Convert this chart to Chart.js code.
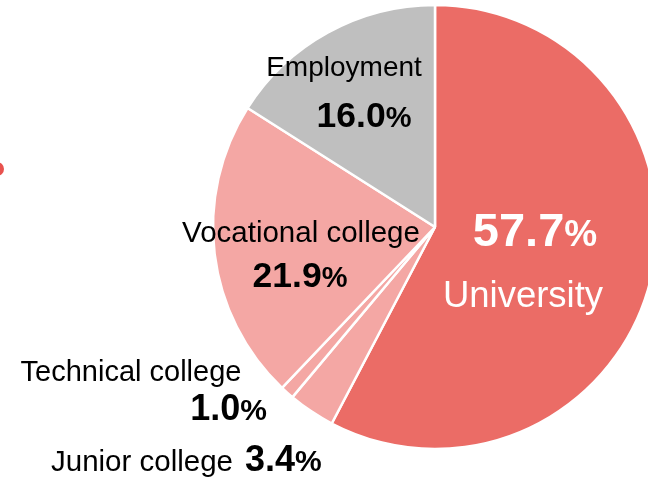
<!DOCTYPE html>
<html lang="en">
<head>
    <meta charset="UTF-8">
    <title>Career paths</title>
    <style>
        html, body {
            margin: 0;
            padding: 0;
            background: #fff;
            overflow: hidden;
        }
        .wrap {
            position: relative;
            width: 648px;
            height: 479px;
            overflow: hidden;
        }
        #pathChart {
            position: absolute;
            left: 0;
            top: 0;
        }
        .dot {
            position: absolute;
            left: -10px;
            top: 162px;
            width: 14px;
            height: 14px;
            border-radius: 50%;
            background: #e8524e;
        }
    </style>
</head>
<body>
<div class="wrap">
    <canvas id="pathChart" width="660" height="479"></canvas>
    <div class="dot"></div>
</div>
<script src="https://cdn.jsdelivr.net/npm/chart.js"></script>
<script>
    // data (clockwise from 12 o'clock)
    const categories = ['University', 'Junior college', 'Technical college', 'Vocational college', 'Employment'];
    const shares = [57.7, 3.4, 1.0, 21.9, 16.0];
    const sliceColors = ['#eb6c66', '#f4a7a4', '#f4a7a4', '#f4a7a4', '#bfbfbf'];

    const FONT = '"Liberation Sans", Arial, sans-serif';

    // draws "57.7" + smaller "%" ; align: 'center' | 'left' | 'right'
    function drawPct(ctx, value, x, y, numSize, pctSize, color, align) {
        const num = value.toFixed(1);
        ctx.font = 'bold ' + numSize + 'px ' + FONT;
        const w1 = ctx.measureText(num).width;
        ctx.font = 'bold ' + pctSize + 'px ' + FONT;
        const w2 = ctx.measureText('%').width;
        const total = w1 + w2;
        let left = x;
        if (align === 'center') left = x - total / 2;
        if (align === 'right') left = x - total;
        ctx.fillStyle = color;
        ctx.textAlign = 'left';
        ctx.textBaseline = 'alphabetic';
        ctx.font = 'bold ' + numSize + 'px ' + FONT;
        ctx.fillText(num, left, y);
        ctx.font = 'bold ' + pctSize + 'px ' + FONT;
        ctx.fillText('%', left + w1, y);
        return total;
    }

    function drawText(ctx, txt, x, y, size, color, align) {
        ctx.font = size + 'px ' + FONT;
        ctx.fillStyle = color;
        ctx.textAlign = align;
        ctx.textBaseline = 'alphabetic';
        ctx.fillText(txt, x, y);
    }

    const labelPlugin = {
        id: 'sliceLabels',
        afterDatasetsDraw(chart) {
            const ctx = chart.ctx;
            ctx.save();
            // University
            drawPct(ctx, shares[0], 535, 246, 47, 37, '#ffffff', 'center');
            drawText(ctx, categories[0], 523, 307, 36.5, '#ffffff', 'center');
            // Vocational college
            drawText(ctx, categories[3], 301, 242, 29.5, '#000', 'center');
            drawPct(ctx, shares[3], 300, 287, 35.5, 29, '#000', 'center');
            // Employment
            drawText(ctx, categories[4], 344, 76, 28, '#000', 'center');
            drawPct(ctx, shares[4], 364, 127, 35.5, 29, '#000', 'center');
            // Technical college
            drawText(ctx, categories[2], 131, 381, 29, '#000', 'center');
            drawPct(ctx, shares[2], 267, 420, 36, 30, '#000', 'right');
            // Junior college
            drawText(ctx, categories[1], 233, 471, 29.5, '#000', 'right');
            drawPct(ctx, shares[1], 245, 471, 36, 30, '#000', 'left');
            ctx.restore();
        }
    };

    new Chart(document.getElementById('pathChart'), {
        type: 'pie',
        data: {
            labels: categories,
            datasets: [{
                data: shares,
                backgroundColor: sliceColors,
                borderColor: '#ffffff',
                borderWidth: 2.5
            }]
        },
        options: {
            responsive: false,
            animation: false,
            radius: 222,
            layout: {
                padding: {left: 213, top: 5, right: 3, bottom: 30}
            },
            plugins: {
                legend: {display: false},
                tooltip: {enabled: false}
            }
        },
        plugins: [labelPlugin]
    });
</script>
</body>
</html>
